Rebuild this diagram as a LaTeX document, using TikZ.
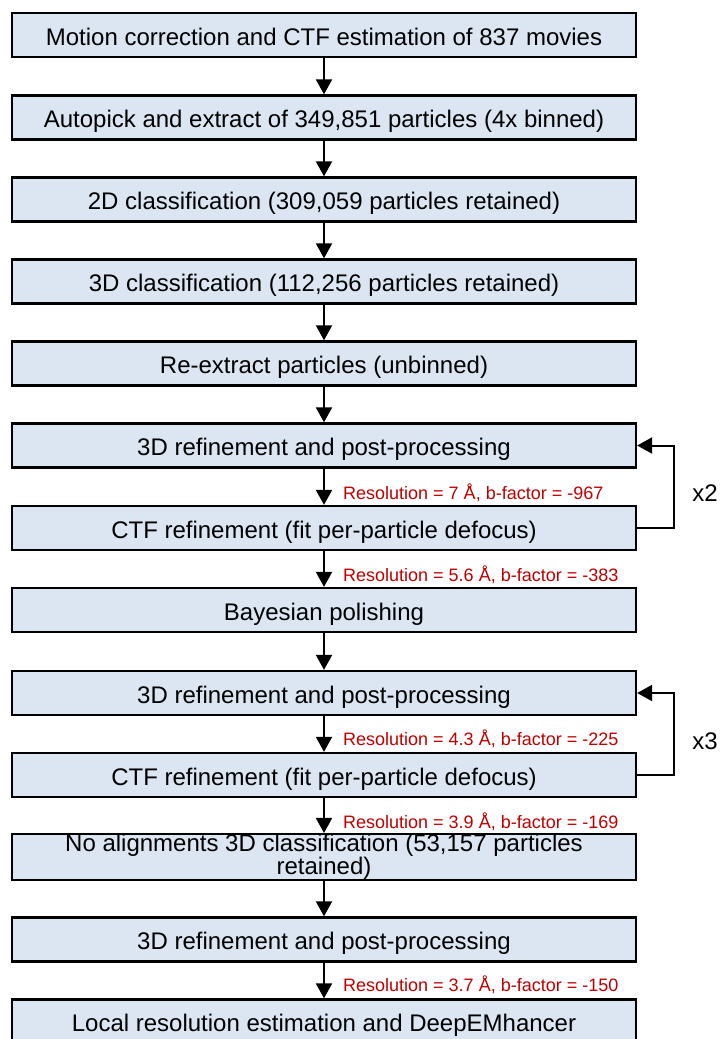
\documentclass[tikz,border=0pt]{standalone}
\usepackage{fontspec}
\setmainfont{Liberation Sans}
\usepackage{tikz}
\usetikzlibrary{arrows.meta}
\definecolor{boxfill}{HTML}{DCE6F2}
\definecolor{resred}{HTML}{C00000}

\tikzset{
  boxbase/.style={draw=black,line width=2.3pt,fill=boxfill,minimum width=624pt,minimum height=44pt,
    inner sep=0pt,align=center,font=\fontsize{24}{17.6}\selectfont},
  stepbox/.style={boxbase,text height=20pt,text depth=0pt},
  flow/.style={line width=2pt,-{Triangle[width=16pt,length=15pt]}},
  reslabel/.style={anchor=west,inner sep=0pt,text=resred,font=\fontsize{18}{20}\selectfont},
  repeat/.style={inner sep=0pt,font=\fontsize{24}{26}\selectfont}
}

\begin{document}
\begin{tikzpicture}[x=1pt,y=-1pt]
        \useasboundingbox (0,0) rectangle (721,1039);
        \node[stepbox] (motion) at (324,35) {Motion correction and CTF estimation of 837 movies};
        \node[stepbox] (autopick) at (324,117.5) {Autopick and extract of 349,851 particles (4x binned)};
        \node[stepbox] (classtwo) at (324,199.5) {2D classification (309,059 particles retained)};
        \node[stepbox] (classthree) at (324,281.5) {3D classification (112,256 particles retained)};
        \node[stepbox] (reextract) at (324,363.5) {Re-extract particles (unbinned)};
        \node[stepbox] (refineA) at (324,445.5) {3D refinement and post-processing};
        \node[stepbox] (ctfA) at (324,528) {CTF refinement (fit per-particle defocus)};
        \node[stepbox] (polish) at (324,610) {Bayesian polishing};
        \node[stepbox] (refineB) at (324,693) {3D refinement and post-processing};
        \node[stepbox] (ctfB) at (324,775) {CTF refinement (fit per-particle defocus)};
        \node[boxbase] (noalign) at (324,857) {No alignments 3D classification (53,157 particles\\retained)};
        \node[stepbox] (refineC) at (324,939.5) {3D refinement and post-processing};
        \node[stepbox] (localres) at (324,1021.5) {Local resolution estimation and DeepEMhancer};
        % main chain
        \draw[flow] (motion) -- (autopick);
        \draw[flow] (autopick) -- (classtwo);
        \draw[flow] (classtwo) -- (classthree);
        \draw[flow] (classthree) -- (reextract);
        \draw[flow] (reextract) -- (refineA);
        \draw[flow] (refineA) -- (ctfA);
        \draw[flow] (ctfA) -- (polish);
        \draw[flow] (polish) -- (refineB);
        \draw[flow] (refineB) -- (ctfB);
        \draw[flow] (ctfB) -- (noalign);
        \draw[flow] (noalign) -- (refineC);
        \draw[flow] (refineC) -- (localres);
        % loops
        \draw[flow] (ctfA.east) -- ++(37,0) |- (refineA.east);
        \draw[flow] (ctfB.east) -- ++(37,0) |- (refineB.east);
        \node[repeat] (twice) at (705,493) {x2};
        \node[repeat] (thrice) at (705,741) {x3};
        % resolutions
        \node[reslabel] (resA) at (343,493) {Resolution = 7 Å, b-factor = -967};
        \node[reslabel] (resB) at (343,575) {Resolution = 5.6 Å, b-factor = -383};
        \node[reslabel] (resC) at (343,739) {Resolution = 4.3 Å, b-factor = -225};
        \node[reslabel] (resD) at (343,822) {Resolution = 3.9 Å, b-factor = -169};
        \node[reslabel] (resE) at (343,985) {Resolution = 3.7 Å, b-factor = -150};
      \end{tikzpicture}
\end{document}
